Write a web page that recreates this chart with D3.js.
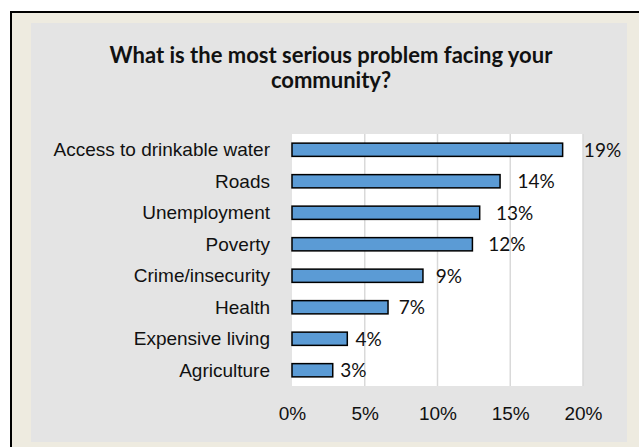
<!DOCTYPE html>
<html>
<head>
<meta charset="utf-8">
<script src="https://cdn.jsdelivr.net/npm/d3@7"></script>
<style>
  body { margin: 0; background: #fff; }
  svg { display: block; font-family: Lato, "Open Sans", sans-serif; }
  .cat { font-size: 19px; fill: #111; }
  .tick-lbl { font-size: 19px; fill: #111; }
  .val { font-size: 19px; fill: #111; }
  .title { font-size: 22px; font-weight: bold; fill: #111; }
</style>
</head>
<body>
<script>
// data
var categories = ["Access to drinkable water", "Roads", "Unemployment", "Poverty",
                  "Crime/insecurity", "Health", "Expensive living", "Agriculture"];
var shares = [18.6, 14.3, 12.9, 12.4, 9.0, 6.6, 3.8, 2.8];
var tickValues = [0, 5, 10, 15, 20];
var titleLines = ["What is the most serious problem facing your", "community?"];

var w = 639, h = 447;
var plot = {left: 292, right: 583, top: 134, bottom: 386};

var svg = d3.select("body").append("svg")
  .attr("width", w)
  .attr("height", h);

// frame + chart area
svg.append("rect")
  .attr("x", 11).attr("y", 12)
  .attr("width", w + 10).attr("height", h + 10)
  .attr("fill", "#EEEBE0")
  .attr("stroke", "#000")
  .attr("stroke-width", 2);

svg.append("rect")
  .attr("x", 31).attr("y", 23)
  .attr("width", 596).attr("height", 419)
  .attr("fill", "#E4E4E4");

svg.append("rect")
  .attr("x", plot.left).attr("y", plot.top)
  .attr("width", plot.right - plot.left).attr("height", plot.bottom - plot.top)
  .attr("fill", "#fff");

// title
svg.append("text")
  .attr("class", "title")
  .attr("text-anchor", "middle")
  .selectAll("tspan")
  .data(titleLines)
  .enter()
  .append("tspan")
  .attr("x", 331)
  .attr("y", function(d, i) { return 63 + i * 25; })
  .text(function(d) { return d; });

// scales
var x = d3.scaleLinear().domain([0, 20]).range([plot.left, plot.right]);
// excel put the value labels a bit further out than the bar ends
var xLabel = d3.scaleLinear().domain([0, 20]).range([plot.left + 5, plot.left + 5 + (plot.right - plot.left) * 1.06]);
var y = d3.scaleBand()
  .domain(categories)
  .range([plot.top, plot.bottom])
  .paddingInner(0.58)
  .paddingOuter(0.29);

// gridlines
svg.append("g")
  .selectAll("line")
  .data(tickValues.slice(1))
  .enter()
  .append("line")
  .attr("x1", function(d) { return x(d); })
  .attr("x2", function(d) { return x(d); })
  .attr("y1", plot.top)
  .attr("y2", plot.bottom)
  .attr("stroke", "#D9D9D9")
  .attr("stroke-width", 1.5);

// x axis labels
var xAxis = d3.axisBottom(x)
  .tickValues(tickValues)
  .tickFormat(function(d) { return d + "%"; })
  .tickSize(0)
  .tickPadding(0);

var gx = svg.append("g")
  .attr("transform", "translate(0,420)")
  .call(xAxis);
gx.select(".domain").remove();
gx.selectAll("text")
  .attr("class", "tick-lbl")
  .attr("font-family", null)
  .attr("font-size", null)
  .attr("y", 0)
  .attr("dy", 0)
  .attr("fill", "#111");

// category labels
var yAxis = d3.axisLeft(y).tickSize(0).tickPadding(0);
var gy = svg.append("g")
  .attr("transform", "translate(270,0)")
  .call(yAxis);
gy.select(".domain").remove();
gy.selectAll("text")
  .attr("class", "cat")
  .attr("font-family", null)
  .attr("font-size", null)
  .attr("dy", "0.33em")
  .attr("fill", "#111");

// bars
svg.append("g")
  .selectAll("rect")
  .data(shares)
  .enter()
  .append("rect")
  .attr("x", x(0))
  .attr("y", function(d, i) { return y(categories[i]); })
  .attr("width", function(d) { return x(d) - x(0); })
  .attr("height", y.bandwidth())
  .attr("fill", "#5B9BD5")
  .attr("stroke", "#000")
  .attr("stroke-width", 1.5);

// value labels
svg.append("g")
  .selectAll("text")
  .data(shares)
  .enter()
  .append("text")
  .attr("class", "val")
  .attr("x", function(d) { return xLabel(d); })
  .attr("y", function(d, i) { return y(categories[i]) + y.bandwidth() / 2; })
  .attr("dy", "0.38em")
  .text(function(d) { return Math.round(d) + "%"; });
</script>
</body>
</html>
